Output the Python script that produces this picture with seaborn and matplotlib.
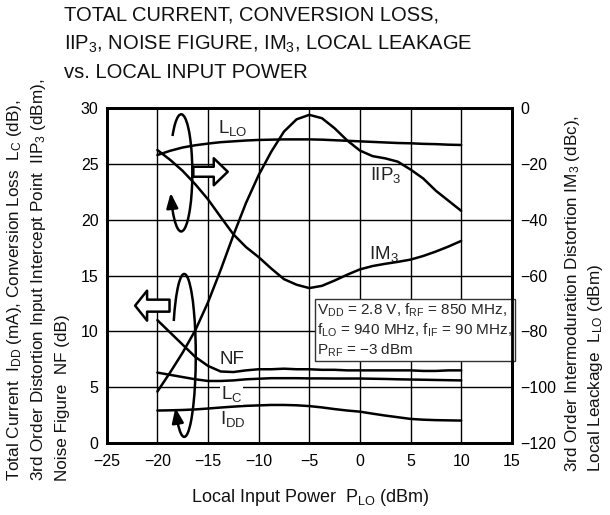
import numpy as np
import matplotlib
matplotlib.use("Agg")
import matplotlib.pyplot as plt
import seaborn as sns
from matplotlib.patches import Arc, FancyArrowPatch

# local input power (dBm)
p_lo = [-20, -18.75, -17.5, -16.25, -15, -13.75, -12.5, -11.25, -10, -8.75, -7.5, -6.25, -5,
        -3.75, -2.5, -1.25, 0, 1.25, 2.5, 3.75, 5, 6.25, 7.5, 8.75, 10]

# left axis series
iip3 = [4.6, 6.3, 8.1, 10.1, 12.6, 15.5, 18.6, 21.5, 24.0, 26.1, 27.9, 29.0, 29.4,
        29.1, 28.2, 27.1, 26.2, 25.7, 25.5, 25.2, 24.5, 23.7, 22.6, 21.7, 20.8]
nf = [11.0, 9.9, 8.8, 7.7, 6.9, 6.4, 6.35, 6.5, 6.6, 6.6, 6.65, 6.6, 6.6,
      6.55, 6.55, 6.5, 6.5, 6.5, 6.5, 6.5, 6.5, 6.45, 6.45, 6.5, 6.5]
lc = [6.3, 6.1, 5.9, 5.7, 5.55, 5.55, 5.6, 5.7, 5.75, 5.8, 5.8, 5.8, 5.78,
      5.78, 5.77, 5.77, 5.77, 5.75, 5.73, 5.7, 5.68, 5.66, 5.64, 5.62, 5.6]
idd = [2.9, 2.92, 2.95, 3.0, 3.08, 3.17, 3.25, 3.32, 3.36, 3.4, 3.4, 3.37, 3.3,
       3.18, 3.03, 2.9, 2.8, 2.62, 2.45, 2.3, 2.15, 2.08, 2.04, 2.02, 2.0]

# right axis series (dBc / dBm)
im3 = [-15.0, -18.5, -22.5, -27.3, -32.7, -39.0, -45.2, -49.8, -53.4, -57.5, -61.3, -63.3, -64.5,
       -63.7, -61.8, -59.7, -57.8, -56.6, -55.8, -55.1, -54.3, -53.0, -51.4, -49.6, -47.6]
llo = [-16.8, -15.3, -14.1, -13.3, -12.7, -12.2, -11.9, -11.6, -11.4, -11.3, -11.2, -11.2, -11.2,
       -11.3, -11.5, -11.7, -11.9, -12.1, -12.3, -12.5, -12.6, -12.8, -12.9, -13.1, -13.2]

x_ticks = [-25, -20, -15, -10, -5, 0, 5, 10, 15]
left_ticks = [0, 5, 10, 15, 20, 25, 30]
right_ticks = [-120, -100, -80, -60, -40, -20, 0]

sns.set_theme(style="white")
plt.rcParams["font.family"] = ["Liberation Sans", "DejaVu Sans"]
plt.rcParams["mathtext.fontset"] = "custom"
plt.rcParams["mathtext.rm"] = "Liberation Sans"
plt.rcParams["mathtext.it"] = "Liberation Sans:italic"
plt.rcParams["mathtext.bf"] = "Liberation Sans:bold"

fig, ax = plt.subplots(figsize=(6.1, 5.15), dpi=100)
fig.subplots_adjust(left=0.175, right=0.839, bottom=0.140, top=0.790)
ax2 = ax.twinx()

lw = 1.8
for ys in (iip3, nf, lc, idd):
    sns.lineplot(x=p_lo, y=ys, ax=ax, color="black", lw=lw)
for ys in (im3, llo):
    sns.lineplot(x=p_lo, y=ys, ax=ax2, color="black", lw=lw)

ax.set_xlim(-25, 15)
ax.set_ylim(0, 30)
ax2.set_ylim(-120, 0)
ax.set_xticks(x_ticks)
ax.set_yticks(left_ticks)
ax2.set_yticks(right_ticks)
ax.grid(True, color="black", lw=1.0)
ax.set_axisbelow(True)
ax.tick_params(length=0, labelsize=11.5, colors="black")
ax.tick_params(axis="x", pad=8)
ax.tick_params(axis="y", pad=6)
ax2.tick_params(length=0, labelsize=11.5, colors="black", pad=6)
ax2.grid(False)
for a in (ax, ax2):
    for s in a.spines.values():
        s.set_color("black")
        s.set_linewidth(2.0)

# curve labels
lab = dict(fontsize=13.5, ha="center", va="center", color="#222222")
box = dict(facecolor="white", edgecolor="none", pad=0.5)
ax.text(-12.55, 28.2, r"L$_{\rm LO}$", **lab)
ax.text(2.55, 24.0, r"IIP$_3$", **lab)
ax.text(2.35, 16.9, r"IM$_3$", **lab)
ax.text(-12.65, 7.5, "NF", **lab)
ax.text(-12.65, 4.4, r"L$_{\rm C}$", bbox=box, **lab)
ax.text(-12.55, 2.1, r"I$_{\rm DD}$", **lab)

# condition box
cond = (r"V$_{\rm DD}$ = 2.8 V, f$_{\rm RF}$ = 850 MHz," "\n"
        r"f$_{\rm LO}$ = 940 MHz, f$_{\rm IF}$ = 90 MHz," "\n"
        r"P$_{\rm RF}$ = −3 dBm")
ax.text(-4.2, 12.7, cond, fontsize=11, ha="left", va="top", linespacing=1.2, zorder=5,
        bbox=dict(facecolor="white", edgecolor="#333333", lw=1.0, boxstyle="square,pad=0.15"))


def ellipse_arc(cx, cy, a, b, t_start, t_end, tip_t):
    # arc from t_start ccw to t_end (parametric degrees), arrowhead after t_start
    def geo(t):
        t = np.radians(t)
        return np.degrees(np.arctan2(b * np.sin(t), a * np.cos(t)))
    ax.add_patch(Arc((cx, cy), 2 * a, 2 * b, theta1=geo(t_start), theta2=geo(t_end),
                     color="black", lw=1.8, zorder=4))
    ts, tt = np.radians(t_start), np.radians(tip_t)
    ax.annotate("", xy=(cx + a * np.cos(tt), cy + b * np.sin(tt)),
                xytext=(cx + a * np.cos(ts), cy + b * np.sin(ts)),
                arrowprops=dict(arrowstyle="-|>,head_length=0.9,head_width=0.35",
                                color="black", lw=1.8, shrinkA=0, shrinkB=0,
                                mutation_scale=10), zorder=4)


ellipse_arc(-17.65, 24.2, 1.1, 5.25, 216, 141, 200)
ellipse_arc(-17.35, 7.84, 1.14, 7.3, 236, 155, 220)

# block arrows
ax.add_patch(FancyArrowPatch((-16.45, 24.3), (-13.05, 24.3),
                             arrowstyle="simple,head_length=1.4,head_width=2.7,tail_width=1.0",
                             mutation_scale=7.2, facecolor="white", edgecolor="black",
                             lw=1.8, shrinkA=0, shrinkB=0, zorder=4))
ax.add_patch(FancyArrowPatch((-18.8, 12.3), (-22.2, 12.3),
                             arrowstyle="simple,head_length=1.2,head_width=3.0,tail_width=1.2",
                             mutation_scale=7.2, facecolor="white", edgecolor="black",
                             lw=1.8, shrinkA=0, shrinkB=0, zorder=4))

# title
title_lines = ["TOTAL CURRENT, CONVERSION LOSS,",
               r"IIP$_3$, NOISE FIGURE, IM$_3$, LOCAL LEAKAGE",
               "vs. LOCAL INPUT POWER"]
for i, t in enumerate(title_lines):
    fig.text(64 / 610, 1 - (15 + 29 * i) / 515, t, fontsize=14.5, ha="left", va="center",
             color="#111111")

# axis labels
left_lab = [r"Total Current  I$_{\rm DD}$ (mA), Conversion Loss  L$_{\rm C}$ (dB),",
            r"3rd Order Distortion Input Intercept Point  IIP$_3$ (dBm),",
            r"Noise Figure  NF (dB)"]
for i, t in enumerate(left_lab):
    fig.text((15 + 23.5 * i) / 610, 34 / 515, t, rotation=90, fontsize=12.3,
             ha="center", va="bottom", color="#111111")
right_lab = [r"3rd Order Intermoduration Distortion IM$_3$ (dBc),",
             r"Local Leackage  L$_{\rm LO}$ (dBm)"]
for i, t in enumerate(right_lab):
    fig.text((572 + 23.5 * i) / 610, 43 / 515, t, rotation=90, fontsize=12.3,
             ha="center", va="bottom", color="#111111")
fig.text(310 / 610, 1 - 498 / 515, r"Local Input Power  P$_{\rm LO}$ (dBm)", fontsize=13,
         ha="center", va="center", color="#111111")

fig.savefig("out.png", dpi=100)
